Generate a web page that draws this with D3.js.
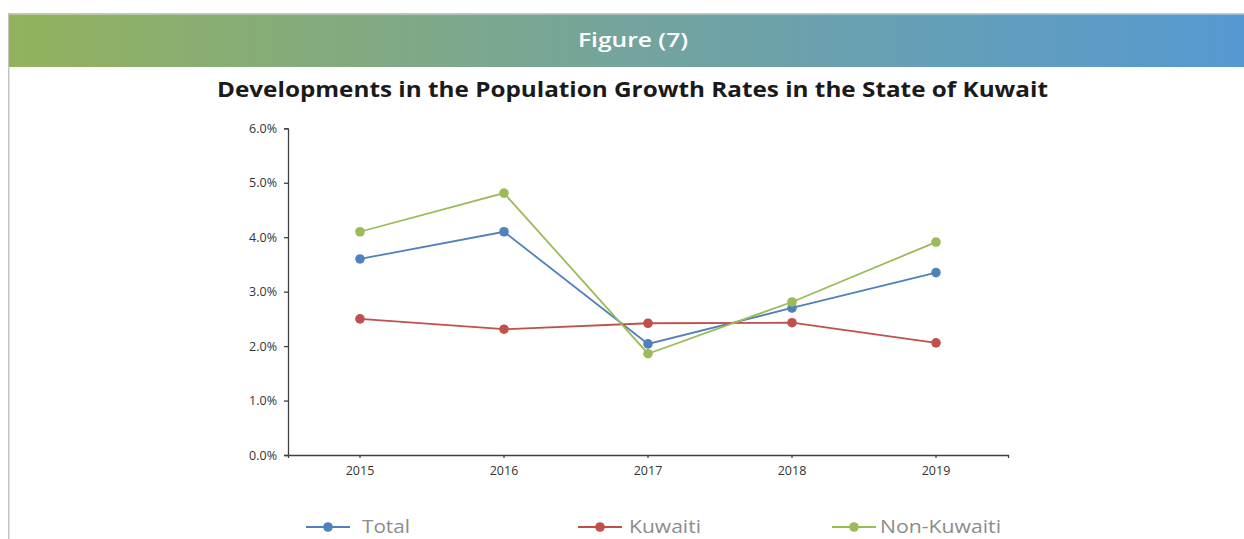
<!DOCTYPE html>
<html>
<head>
<meta charset="utf-8">
<script src="https://cdn.jsdelivr.net/npm/d3@7"></script>
<style>
  html, body { margin: 0; padding: 0; background: #fff; }
  svg { display: block; }
</style>
</head>
<body>
<svg id="chart" width="1244" height="539"></svg>
<script>
const years = ["2015", "2016", "2017", "2018", "2019"];
const totalValues = [3.60, 4.10, 2.04, 2.70, 3.35];
const kuwaitiValues = [2.50, 2.31, 2.42, 2.43, 2.06];
const nonKuwaitiValues = [4.10, 4.81, 1.86, 2.81, 3.91];
const yTicks = [0, 1, 2, 3, 4, 5, 6];
const seriesNames = ["Total", "Kuwaiti", "Non-Kuwaiti"];
const seriesColors = ["#4f81bd", "#c0504d", "#9bbb59"];
const figureLabel = "Figure (7)";
const titleText = "Developments in the Population Growth Rates in the State of Kuwait";

const series = [totalValues, kuwaitiValues, nonKuwaitiValues].map((vals, i) => ({
  name: seriesNames[i], color: seriesColors[i], values: vals
}));

const svg = d3.select("#chart");
const font = "'Open Sans', Lato, sans-serif";

// Banner gradient
const defs = svg.append("defs");
const grad = defs.append("linearGradient").attr("id", "bannerGrad")
  .attr("x1", "0%").attr("x2", "100%").attr("y1", "0%").attr("y2", "0%");
grad.append("stop").attr("offset", "0%").attr("stop-color", "#93b25d");
grad.append("stop").attr("offset", "50%").attr("stop-color", "#74a49d");
grad.append("stop").attr("offset", "100%").attr("stop-color", "#5699d2");

// Frame borders
svg.append("rect").attr("x", 8).attr("y", 13).attr("width", 1236).attr("height", 1.5).attr("fill", "#c4c4c4");
svg.append("rect").attr("x", 8).attr("y", 13).attr("width", 1.5).attr("height", 526).attr("fill", "#c4c4c4");
svg.append("rect").attr("x", 9).attr("y", 14.5).attr("width", 1235).attr("height", 52.5).attr("fill", "url(#bannerGrad)");

svg.append("text").attr("x", 578).attr("y", 47)
  .attr("fill", "#ffffff")
  .attr("font-family", font).attr("font-weight", 600).attr("font-size", 20)
  .attr("textLength", 110).attr("lengthAdjust", "spacingAndGlyphs")
  .text(figureLabel);

svg.append("text").attr("x", 217).attr("y", 97)
  .attr("fill", "#1a1a1a")
  .attr("font-family", font).attr("font-weight", 700).attr("font-size", 21.5)
  .attr("textLength", 831).attr("lengthAdjust", "spacingAndGlyphs")
  .text(titleText);

// Scales
const x = d3.scaleBand().domain(years).range([288, 1008]);
const y = d3.scaleLinear().domain([0, 6]).range([455, 128.3]);
const cx = d => x(d) + x.bandwidth() / 2;

// Y axis
const yAxis = svg.append("g").attr("transform", "translate(288,0)")
  .call(d3.axisLeft(y).tickValues(yTicks).tickSize(4).tickPadding(7)
    .tickFormat(d => d3.format(".1f")(d) + "%"));
yAxis.select(".domain").attr("stroke", "#404040").attr("stroke-width", 1.3);
yAxis.selectAll(".tick line").attr("stroke", "#404040").attr("stroke-width", 1.3);
yAxis.selectAll(".tick text").attr("fill", "#333").attr("font-family", font).attr("font-size", 12.5);

// X axis
const xAxis = svg.append("g").attr("transform", "translate(0,455)")
  .call(d3.axisBottom(x).tickSize(3).tickSizeOuter(3).tickPadding(8));
xAxis.select(".domain").attr("stroke", "#404040").attr("stroke-width", 1.3);
xAxis.selectAll(".tick line").attr("stroke", "#404040").attr("stroke-width", 1.3);
xAxis.selectAll(".tick text").attr("fill", "#333").attr("font-family", font).attr("font-size", 12.5);

// Lines and markers
const line = d3.line().x((d, i) => cx(years[i])).y(d => y(d));
series.forEach(s => {
  svg.append("path").datum(s.values)
    .attr("fill", "none").attr("stroke", s.color).attr("stroke-width", 1.8)
    .attr("d", line);
});
series.forEach(s => {
  svg.append("g").selectAll("circle").data(s.values).join("circle")
    .attr("cx", (d, i) => cx(years[i])).attr("cy", d => y(d))
    .attr("r", 4.8).attr("fill", s.color);
});

// Legend
const legendX = [306, 578, 832];
const legendTextX = [56, 51, 48];
const legendTextLen = [48, 72, 121];
const lg = svg.append("g");
series.forEach((s, i) => {
  const g = lg.append("g").attr("transform", `translate(${legendX[i]},527)`);
  g.append("line").attr("x1", 0).attr("x2", 44).attr("stroke", s.color).attr("stroke-width", 1.8);
  g.append("circle").attr("cx", 22).attr("r", 4.8).attr("fill", s.color);
  g.append("text").attr("x", legendTextX[i]).attr("y", 6)
    .attr("fill", "#8c8c8c").attr("font-family", font).attr("font-size", 18.5)
    .attr("textLength", legendTextLen[i]).attr("lengthAdjust", "spacingAndGlyphs")
    .text(s.name);
});
</script>
</body>
</html>
